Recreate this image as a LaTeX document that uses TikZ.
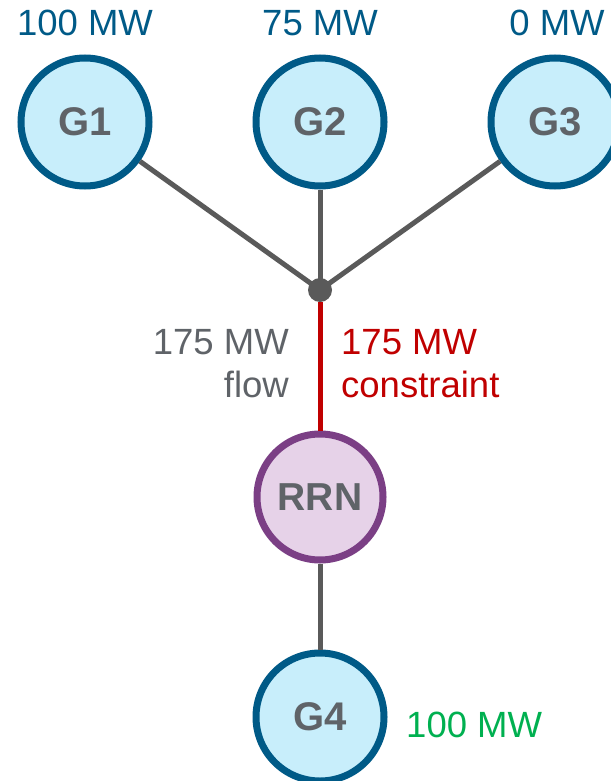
\documentclass[tikz,border=0pt]{standalone}
\usepackage{fontspec}
\setmainfont{Liberation Sans}
\definecolor{gblue}{HTML}{005A87}
\definecolor{gfill}{HTML}{C8EEFB}
\definecolor{gtext}{HTML}{5F6368}
\definecolor{edgegray}{HTML}{5A5A5A}
\definecolor{cred}{HTML}{C00000}
\definecolor{cgreen}{HTML}{00B050}
\definecolor{rfill}{HTML}{E6D2E8}
\definecolor{rstroke}{HTML}{7B3F85}
\begin{document}
\begin{tikzpicture}[x=1pt,y=-1pt,
  gen/.style={circle,draw=gblue,fill=gfill,line width=7pt,minimum size=128pt,inner sep=0pt,
    text=gtext,font=\fontsize{40}{46}\selectfont\bfseries},
  rrn/.style={circle,draw=rstroke,fill=rfill,line width=7pt,minimum size=126pt,inner sep=0pt,
    text=gtext,font=\fontsize{39}{46}\selectfont\bfseries},
  edge/.style={draw=edgegray,line width=5pt},
  lbl/.style={font=\fontsize{36.5}{44}\selectfont,inner sep=0pt}]
\useasboundingbox (0,0) rectangle (610,781);
\node[gen] (g1) at (85,122) {G1};
\node[gen] (g2) at (320,122) {G2};
\node[gen] (g3) at (555,122) {G3};
\node[rrn] (rrn) at (320,497) {RRN};
\node[gen] (g4) at (320,717) {G4};
\node[circle,fill=edgegray,minimum size=24pt,inner sep=0pt] (j) at (320,290) {};
\draw[edge] (g1) -- (j.center);
\draw[edge] (g2) -- (j.center);
\draw[edge] (g3) -- (j.center);
\draw[draw=cred,line width=5pt] (j) -- (rrn);
\draw[edge] (rrn) -- (g4);
\node[lbl,text=gblue,anchor=base] (l1) at (85,36) {100 MW};
\node[lbl,text=gblue,anchor=base] (l2) at (320,36) {75 MW};
\node[lbl,text=gblue,anchor=base] (l3) at (557,36) {0 MW};
\node[lbl,text=gtext,anchor=base east] (f1) at (289,354) {175 MW};
\node[lbl,text=gtext,anchor=base east] (f2) at (289,397) {flow};
\node[lbl,text=cred,anchor=base west] (c1) at (341,354) {175 MW};
\node[lbl,text=cred,anchor=base west] (c2) at (341,397) {constraint};
\node[lbl,text=cgreen,anchor=base west] (g4l) at (406,737) {100 MW};
\end{tikzpicture}
\end{document}
